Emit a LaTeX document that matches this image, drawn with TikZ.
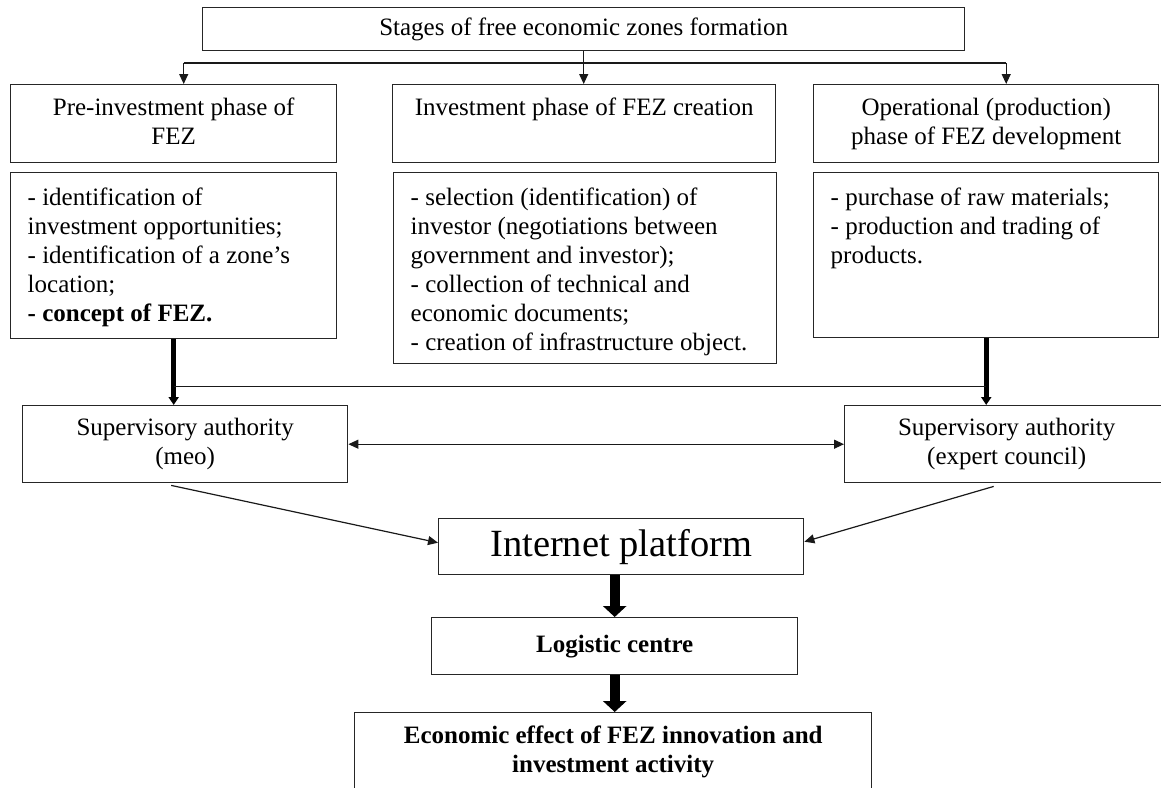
\documentclass[tikz,border=0pt]{standalone}
\usepackage{fontspec}
\setmainfont{Liberation Serif}
\usetikzlibrary{arrows.meta}
\usetikzlibrary{calc}
\usetikzlibrary{positioning}

\newcommand{\celltext}[3]{\parbox[c][#2][t]{#1}{\raggedright #3}}

\begin{document}
\begin{tikzpicture}[x=1pt,y=-1pt,>={Triangle[length=10pt,width=9pt]},semithick]
  \tikzstyle{every node}=[font=\fontsize{25}{29}\selectfont, text=black]
  \tikzstyle{cell}=[draw=black!85, line width=1.4pt, inner sep=0pt, anchor=north west, align=center]
  \tikzstyle{link}=[line width=1.2pt, black!90]
  \tikzstyle{fat}=[line width=5pt, -{Triangle[length=8pt,width=10pt]}]
  \tikzstyle{bigfat}=[line width=10pt, -{Triangle[length=11pt,width=23pt]}]

  \useasboundingbox (0,0) rectangle (1161,787);
  \clip (0,0) rectangle (1161,787);

  % stages
  \node[cell, minimum width=762pt, minimum height=43pt] (stages) at (202,7) {Stages of free economic zones formation};

  \node[cell, minimum width=326pt, minimum height=78pt] (pre) at (10,84)
    {\celltext{300pt}{52pt}{\centering Pre-investment phase of\\ FEZ}};
  \node[cell, minimum width=383pt, minimum height=78pt] (inv) at (392,84)
    {\celltext{360pt}{52pt}{\centering Investment phase of FEZ creation}};
  \node[cell, minimum width=345pt, minimum height=78pt] (ope) at (813,84)
    {\celltext{320pt}{52pt}{\centering Operational (production)\\ phase of FEZ development}};

  % tasks of every stage
  \node[cell, minimum width=326pt, minimum height=166pt] (pretask) at (10,172)
    {\celltext{292pt}{136pt}{- identification of\\ investment opportunities;\\ - identification of a zone’s\\ location;\\ \textbf{- concept of FEZ.}}};
  \node[cell, minimum width=383pt, minimum height=191pt] (invtask) at (393,172)
    {\celltext{349pt}{161pt}{- selection (identification) of\\ investor (negotiations between\\ government and investor);\\ - collection of technical and\\ economic documents;\\ - creation of infrastructure object.}};
  \node[cell, minimum width=345pt, minimum height=165pt] (opetask) at (813,172)
    {\celltext{311pt}{135pt}{- purchase of raw materials;\\ - production and trading of\\ products.}};

  % supervision
  \node[cell, minimum width=325pt, minimum height=77pt] (meo) at (22,405) {Supervisory authority\\ (meo)};
  \node[cell, minimum width=324pt, minimum height=77pt] (exp) at (844,405) {Supervisory authority\\ (expert council)};

  \node[cell, minimum width=365pt, minimum height=56pt, font=\fontsize{38.5}{44}\selectfont] (net) at (438,518) {Internet platform};
  \node[cell, minimum width=366pt, minimum height=57pt, font=\fontsize{25}{29}\selectfont\bfseries] (log) at (431,617) {Logistic centre};
  \node[cell, minimum width=517pt, minimum height=100pt] (econ) at (354,712)
    {\celltext{490pt}{74pt}{\centering\bfseries Economic effect of FEZ innovation and\\ investment activity}};

  % top fan
  \coordinate (fl) at ($(pre.north)+(10,-21)$);
  \coordinate (fr) at ($(ope.north)+(20,-21)$);
  \draw[link] (fl) -- (fr);
  \draw[link,->] (fl) -- (fl |- pre.north);
  \draw[link,->] (stages.south) -- (stages.south |- inv.north);
  \draw[link,->] (fr) -- (fr |- ope.north);

  % down to supervision
  \draw[fat] (pretask.south) -- (pretask.south |- meo.north);
  \draw[fat] (opetask.south) -- (opetask.south |- exp.north);
  \coordinate (ml) at ($(pretask.south)+(0,47)$);
  \draw[link] (ml) -- (ml -| opetask.south);
  \draw[link,<->] (meo.east) -- (exp.west);

  \draw[link,->] ($(meo.south)+(-14,2)$) -- ($(net.west)+(0,-4)$);
  \draw[link,->] ($(exp.south)+(-13,3)$) -- ($(net.east)+(0,-5)$);

  \draw[bigfat] (log.north |- net.south) -- (log.north);
  \draw[bigfat] (log.south) -- (log.south |- econ.north);
\end{tikzpicture}
\end{document}
